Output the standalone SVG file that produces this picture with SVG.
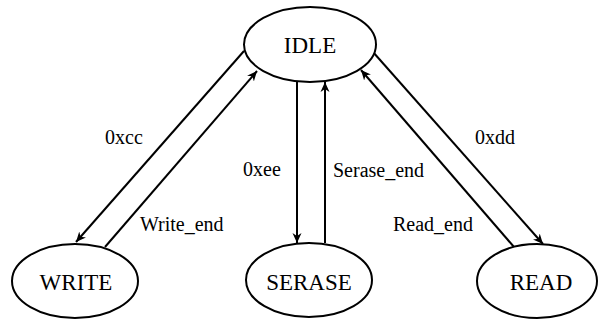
<svg xmlns="http://www.w3.org/2000/svg" width="598" height="320" viewBox="0 0 598 320">
  <style>
    .state ellipse { fill: #fff; stroke: #000; stroke-width: 2; }
    .state text { font-family: "Liberation Serif", "Times New Roman", serif; font-size: 23px; fill: #000; text-anchor: middle; }
    .edge { fill: none; stroke: #000; stroke-width: 2; marker-end: url(#arrow); }
    .lbl { font-family: "Liberation Serif", "Times New Roman", serif; font-size: 20px; fill: #000; }
  </style>
  <defs>
    <marker id="arrow" viewBox="-10 -5 11 10" refX="0" refY="0" markerWidth="11" markerHeight="10" markerUnits="userSpaceOnUse" orient="auto">
      <path d="M0,0 L-10,-4.5 L-7,0 L-10,4.5 Z" fill="#000"/>
    </marker>
  </defs>
  <rect width="598" height="320" fill="#fff"/>

  <g id="connectors">
    <line class="edge" x1="244" y1="51" x2="76" y2="242"/>
    <line class="edge" x1="105" y1="247" x2="257" y2="71"/>
    <line class="edge" x1="297" y1="81" x2="297" y2="243"/>
    <line class="edge" x1="325" y1="243" x2="325" y2="82"/>
    <line class="edge" x1="373" y1="52" x2="543" y2="244"/>
    <line class="edge" x1="514" y1="247" x2="361" y2="70"/>
    <text class="lbl" x="105" y="144">0xcc</text>
    <text class="lbl" x="140" y="231">Write_end</text>
    <text class="lbl" x="243" y="176">0xee</text>
    <text class="lbl" x="333" y="177">Serase_end</text>
    <text class="lbl" x="475" y="144">0xdd</text>
    <text class="lbl" x="393" y="231">Read_end</text>
  </g>

  <g id="IDLE" class="state">
    <ellipse cx="310" cy="44.5" rx="66" ry="37.5"/>
    <text x="310" y="53">IDLE</text>
  </g>
  <g id="WRITE" class="state">
    <ellipse cx="75" cy="281" rx="63" ry="37"/>
    <text x="76" y="290">WRITE</text>
  </g>
  <g id="SERASE" class="state">
    <ellipse cx="309" cy="280" rx="63" ry="37"/>
    <text x="309" y="290">SERASE</text>
  </g>
  <g id="READ" class="state">
    <ellipse cx="537" cy="281" rx="60" ry="37"/>
    <text x="541" y="290">READ</text>
  </g>
</svg>
